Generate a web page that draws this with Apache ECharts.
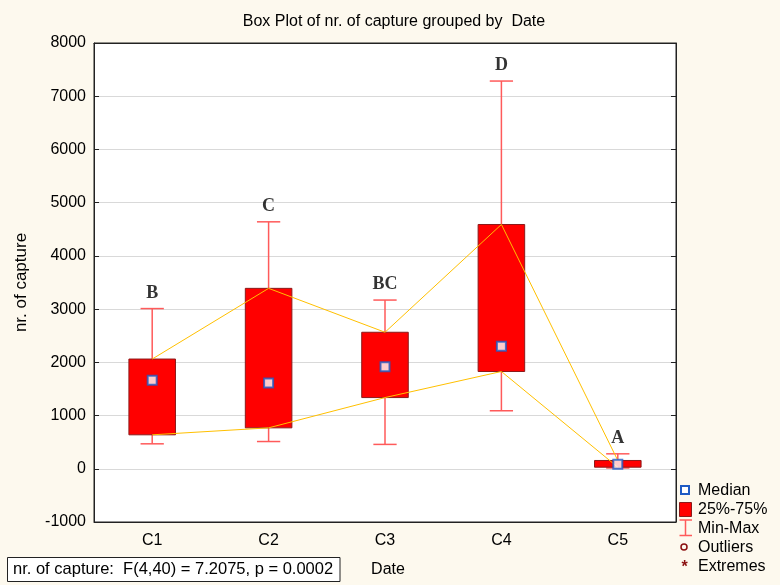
<!DOCTYPE html>
<html>
<head>
<meta charset="utf-8">
<script src="https://cdn.jsdelivr.net/npm/echarts@6/dist/echarts.min.js"></script>
<style>
html,body{margin:0;padding:0;background:#FDF9EE;}
#chart{width:780px;height:585px;}
</style>
</head>
<body>
<div id="chart"></div>
<script>
var categories = ['C1', 'C2', 'C3', 'C4', 'C5'];
var minVals = [469, 512, 458, 1090, 15];
var q1Vals = [638, 769, 1338, 1828, 30];
var medianVals = [1662, 1612, 1917, 2300, 86];
var q3Vals = [2062, 3390, 2565, 4590, 156];
var maxVals = [3010, 4640, 3170, 7285, 281];
var letters = ['B', 'C', 'BC', 'D', 'A'];
var yTicks = [-1000, 0, 1000, 2000, 3000, 4000, 5000, 6000, 7000, 8000];
var statsText = 'nr. of capture:  F(4,40) = 7.2075, p = 0.0002';
var titleText = 'Box Plot of nr. of capture grouped by  Date';

var chart = echarts.init(document.getElementById('chart'), null, {renderer: 'canvas'});

var boxData = categories.map(function (c, i) { return [i, q1Vals[i], q3Vals[i]]; });
var whiskerData = categories.map(function (c, i) { return [i, minVals[i], maxVals[i]]; });
var medianData = categories.map(function (c, i) { return [i, medianVals[i]]; });
var q1Line = categories.map(function (c, i) { return [i, q1Vals[i]]; });
var q3Line = categories.map(function (c, i) { return [i, q3Vals[i]]; });
var letterData = categories.map(function (c, i) { return {value: [i, maxVals[i]], label: {formatter: letters[i]}}; });

var FONT = '"Liberation Sans", Arial, sans-serif';
var LF = '16px "Liberation Sans", Arial, sans-serif';

var option = {
  backgroundColor: '#FDF9EE',
  animation: false,
  grid: {left: 94, right: 104, top: 43, bottom: 63, show: true, backgroundColor: '#ffffff', borderColor: '#222', borderWidth: 1},
  xAxis: [{
    type: 'category',
    data: categories,
    boundaryGap: true,
    axisLine: {onZero: false, lineStyle: {color: '#222', width: 1}},
    axisTick: {inside: true, alignWithLabel: true, length: 5, lineStyle: {color: '#222'}},
    axisLabel: {fontFamily: FONT, fontSize: 16, color: '#000', margin: 11},
    splitLine: {show: false},
    name: 'Date',
    nameLocation: 'middle',
    nameGap: 40,
    nameTextStyle: {fontFamily: FONT, fontSize: 16, color: '#000', padding: [0, 0, 0, 6]}
  }, {
    type: 'category',
    data: categories,
    position: 'top',
    boundaryGap: true,
    axisLine: {onZero: false, lineStyle: {color: '#222', width: 1}},
    axisTick: {inside: true, alignWithLabel: true, length: 5, lineStyle: {color: '#222'}},
    axisLabel: {show: false},
    splitLine: {show: false}
  }],
  yAxis: [{
    type: 'value',
    min: -1000,
    max: 8000,
    interval: 1000,
    axisLine: {show: true, onZero: false, lineStyle: {color: '#222', width: 1}},
    axisTick: {show: true, inside: true, length: 5, lineStyle: {color: '#222'}},
    axisLabel: {fontFamily: FONT, fontSize: 16, color: '#000', margin: 8, formatter: function (v) { return String(v); }},
    splitLine: {show: true, lineStyle: {color: '#d9d9d9', width: 1}},
    name: 'nr. of capture',
    nameLocation: 'middle',
    nameGap: 64,
    nameTextStyle: {fontFamily: FONT, fontSize: 17, color: '#000'}
  }, {
    type: 'value',
    min: -1000,
    max: 8000,
    interval: 1000,
    position: 'right',
    axisLine: {show: true, onZero: false, lineStyle: {color: '#222', width: 1}},
    axisTick: {show: true, inside: true, length: 5, lineStyle: {color: '#222'}},
    axisLabel: {show: false},
    splitLine: {show: false}
  }],
  series: [
    {
      name: 'Min-Max',
      type: 'custom',
      data: whiskerData,
      encode: {x: 0, y: [1, 2]},
      z: 2,
      renderItem: function (params, api) {
        var x = api.value(0);
        var pMin = api.coord([x, api.value(1)]);
        var pMax = api.coord([x, api.value(2)]);
        var cw = api.size([1, 0])[0] * 0.2;
        var st = {stroke: '#ff5a5a', lineWidth: 1.5};
        return {type: 'group', children: [
          {type: 'line', shape: {x1: pMin[0], y1: pMin[1], x2: pMax[0], y2: pMax[1]}, style: st},
          {type: 'line', shape: {x1: pMin[0] - cw / 2, y1: pMin[1], x2: pMin[0] + cw / 2, y2: pMin[1]}, style: st},
          {type: 'line', shape: {x1: pMax[0] - cw / 2, y1: pMax[1], x2: pMax[0] + cw / 2, y2: pMax[1]}, style: st}
        ]};
      }
    },
    {
      name: '25%-75%',
      type: 'custom',
      data: boxData,
      encode: {x: 0, y: [1, 2]},
      z: 3,
      renderItem: function (params, api) {
        var x = api.value(0);
        var pTop = api.coord([x, api.value(2)]);
        var pBot = api.coord([x, api.value(1)]);
        var w = api.size([1, 0])[0] * 0.4;
        return {type: 'rect', shape: {x: pTop[0] - w / 2, y: pTop[1], width: w, height: Math.max(pBot[1] - pTop[1], 1)},
          style: {fill: '#ff0000', stroke: '#8b1a1a', lineWidth: 1}};
      }
    },
    {
      name: 'Q3 line',
      type: 'line',
      data: q3Line,
      symbol: 'none',
      z: 4,
      lineStyle: {color: '#FFC000', width: 1}
    },
    {
      name: 'Q1 line',
      type: 'line',
      data: q1Line,
      symbol: 'none',
      z: 4,
      lineStyle: {color: '#FFC000', width: 1}
    },
    {
      name: 'Median',
      type: 'scatter',
      data: medianData,
      symbol: 'rect',
      symbolSize: 9,
      z: 5,
      itemStyle: {color: '#ffffff', borderColor: '#1f5bc4', borderWidth: 2}
    },
    {
      name: 'letters',
      type: 'scatter',
      data: letterData,
      symbolSize: 1,
      itemStyle: {color: 'rgba(0,0,0,0)'},
      z: 6,
      label: {show: true, position: 'top', distance: 6, fontFamily: '"Liberation Serif", "DejaVu Serif", serif', fontWeight: 'bold', fontSize: 18, color: '#000'}
    }
  ],
  graphic: [
    {type: 'text', x: 394, y: 22, style: {text: titleText, font: LF, fill: '#000', align: 'center', verticalAlign: 'middle'}},
    {type: 'rect', shape: {x: 7.5, y: 557.5, width: 332.5, height: 24}, style: {fill: '#ffffff', stroke: '#222', lineWidth: 1}},
    {type: 'text', x: 13, y: 569.5, style: {text: statsText, font: '16.5px "Liberation Sans", Arial, sans-serif', fill: '#000', verticalAlign: 'middle'}},
    // legend
    {type: 'rect', shape: {x: 681, y: 486, width: 8, height: 8}, style: {fill: '#fff', stroke: '#1f5bc4', lineWidth: 2}},
    {type: 'text', x: 698, y: 490.5, style: {text: 'Median', font: LF, fill: '#000', verticalAlign: 'middle'}},
    {type: 'rect', shape: {x: 679.5, y: 502.5, width: 12, height: 14}, style: {fill: '#ff0000', stroke: '#8b1a1a', lineWidth: 1}},
    {type: 'text', x: 698, y: 509.5, style: {text: '25%-75%', font: LF, fill: '#000', verticalAlign: 'middle'}},
    {type: 'line', shape: {x1: 679.5, y1: 520, x2: 692, y2: 520}, style: {stroke: '#ff5a5a', lineWidth: 1.5}},
    {type: 'line', shape: {x1: 685.5, y1: 520, x2: 685.5, y2: 535.5}, style: {stroke: '#ff5a5a', lineWidth: 1.5}},
    {type: 'line', shape: {x1: 679.5, y1: 535.5, x2: 692, y2: 535.5}, style: {stroke: '#ff5a5a', lineWidth: 1.5}},
    {type: 'text', x: 698, y: 529, style: {text: 'Min-Max', font: LF, fill: '#000', verticalAlign: 'middle'}},
    {type: 'circle', shape: {cx: 684, cy: 547, r: 3}, style: {fill: 'none', stroke: '#8b1010', lineWidth: 1.5}},
    {type: 'text', x: 698, y: 548, style: {text: 'Outliers', font: LF, fill: '#000', verticalAlign: 'middle'}},
    {type: 'text', x: 684.5, y: 568, style: {text: '*', font: 'bold 16px "Liberation Sans", Arial, sans-serif', fill: '#8b1010', align: 'center', verticalAlign: 'middle'}},
    {type: 'text', x: 698, y: 567, style: {text: 'Extremes', font: LF, fill: '#000', verticalAlign: 'middle'}}
  ]
};
chart.setOption(option);
</script>
</body>
</html>
